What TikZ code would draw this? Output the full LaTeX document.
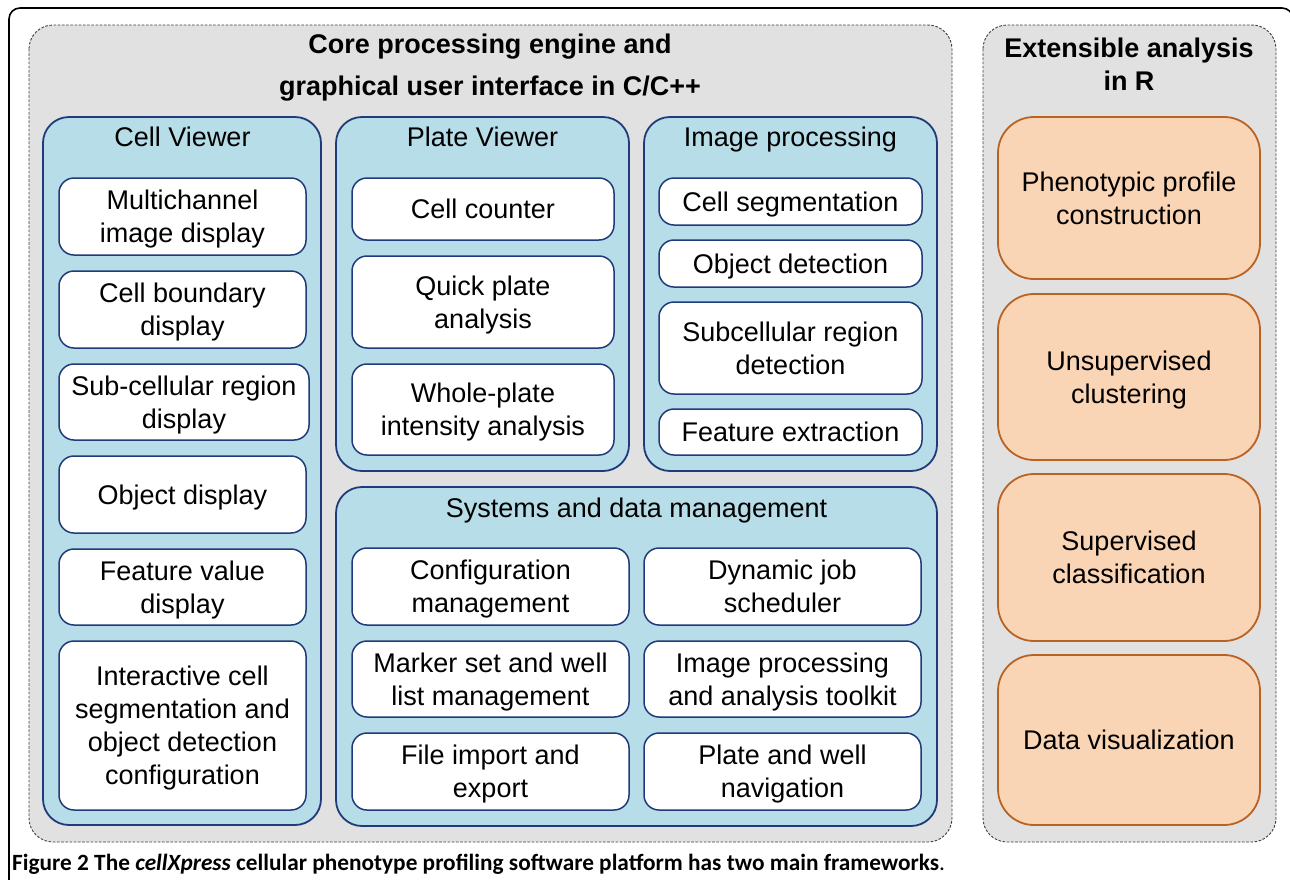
\documentclass[tikz,border=0pt]{standalone}
\usepackage{fontspec}
\setmainfont{Liberation Sans}
\newfontfamily\capfont{Carlito}
\usepackage{tikz}
\usetikzlibrary{positioning}

\definecolor{panelgray}{RGB}{225,225,225}
\definecolor{grpblue}{RGB}{183,221,232}
\definecolor{navy}{RGB}{33,58,122}
\definecolor{peach}{RGB}{250,213,181}
\definecolor{rust}{RGB}{184,98,36}

\tikzset{
  panel/.style = {draw=black!75, line width=0.9, dash pattern=on 2.6pt off 1.6pt, fill=panelgray, rounded corners=24},
  grp/.style = {draw=navy, line width=1.8, fill=grpblue, rounded corners=26},
  wbox/.style = {draw=navy, line width=1.5, fill=white, rounded corners=15, align=center, inner sep=0, text depth=0pt},
  rbox/.style = {draw=rust, line width=1.8, fill=peach, rounded corners=36, align=center, inner sep=0, text depth=0pt},
  grptitle/.style = {anchor=base},
}

\begin{document}
\begin{tikzpicture}[x=1pt, y=-1pt, font=\fontsize{27}{33}\selectfont]
\useasboundingbox (0,0) rectangle (1290,879);
\fill[white] (0,0) rectangle (1290,879);
\begin{scope}
\clip (0,0) rectangle (1290,879);
\draw[line width=1.6, rounded corners=11] (9,8) rectangle (1293,920);
\end{scope}

% two frameworks
\draw[panel] (29,25) rectangle (952,842);
\draw[panel] (983,25) rectangle (1276,842);
\node[align=center, font=\bfseries\fontsize{27}{42}\selectfont, anchor=base] (coretitle) at (490,95)
  {Core processing engine and\\graphical user interface in C/C++};
\node[align=center, font=\bfseries\fontsize{27}{33}\selectfont, anchor=base] (rtitle) at (1129,90)
  {Extensible analysis\\in R};

% groups
\draw[grp] (43,117) rectangle (321,825);
\draw[grp] (336,117) rectangle (629,471);
\draw[grp] (644,117) rectangle (937,471);
\draw[grp] (336,487) rectangle (937,826);
\node[grptitle] (cellviewer) at (182.5,146) {Cell Viewer};
\node[grptitle] (plateviewer) at (482.5,146) {Plate Viewer};
\node[grptitle] (imgproc) at (790.5,146) {Image processing};
\node[grptitle] (sysdata) at (636.5,517) {Systems and data management};

% cell viewer
\node[wbox, minimum width=247, minimum height=77] (mc) at (182.5,216.5) {Multichannel\\image display};
\node[wbox, minimum width=247, minimum height=77] (cb) at (182.5,309.5) {Cell boundary\\display};
\node[wbox, minimum width=250, minimum height=76] (sc) at (184,402) {Sub-cellular region\\display};
\node[wbox, minimum width=247, minimum height=77] (od) at (182.5,494.5) {Object display};
\node[wbox, minimum width=247, minimum height=76] (fv) at (182.5,587) {Feature value\\display};
\node[wbox, minimum width=247, minimum height=169] (ic) at (182.5,725.5)
  {Interactive cell\\segmentation and\\object detection\\configuration};

% plate viewer
\node[wbox, minimum width=262, minimum height=62] (cc) at (483,209) {Cell counter};
\node[wbox, minimum width=262, minimum height=92] (qp) at (483,302) {Quick plate\\analysis};
\node[wbox, minimum width=262, minimum height=91] (wp) at (483,409.5) {Whole-plate\\intensity analysis};

% image processing
\node[wbox, minimum width=263, minimum height=47] (cs) at (790.5,201.5) {Cell segmentation};
\node[wbox, minimum width=263, minimum height=47] (obd) at (790.5,263.5) {Object detection};
\node[wbox, minimum width=263, minimum height=92] (srd) at (790.5,348) {Subcellular region\\detection};
\node[wbox, minimum width=263, minimum height=46] (fe) at (790.5,432) {Feature extraction};

% systems and data management
\node[wbox, minimum width=277, minimum height=77] (cm) at (490.5,586.5) {Configuration\\management};
\node[wbox, minimum width=277, minimum height=77] (js) at (782.5,586.5) {Dynamic job\\scheduler};
\node[wbox, minimum width=277, minimum height=76] (ms) at (490.5,679) {Marker set and well\\list management};
\node[wbox, minimum width=277, minimum height=76] (ip) at (782.5,679) {Image processing\\and analysis toolkit};
\node[wbox, minimum width=277, minimum height=77] (fi) at (490.5,771.5) {File import and\\export};
\node[wbox, minimum width=277, minimum height=77] (pw) at (782.5,771.5) {Plate and well\\navigation};

% analysis in R
\node[rbox, minimum width=262, minimum height=162] (pp) at (1129,198) {Phenotypic profile\\construction};
\node[rbox, minimum width=262, minimum height=166] (uc) at (1129,377) {Unsupervised\\clustering};
\node[rbox, minimum width=262, minimum height=167] (sv) at (1129,557.5) {Supervised\\classification};
\node[rbox, minimum width=262, minimum height=170] (dv) at (1129,740) {Data visualization};

% caption
\node[anchor=base west, inner sep=0, font=\capfont\bfseries\fontsize{23.3}{27}\selectfont] (caption) at (12,870)
  {Figure 2 The \textit{cellXpress} cellular phenotype profiling software platform has two main frameworks\textmd{.}};
\end{tikzpicture}
\end{document}
